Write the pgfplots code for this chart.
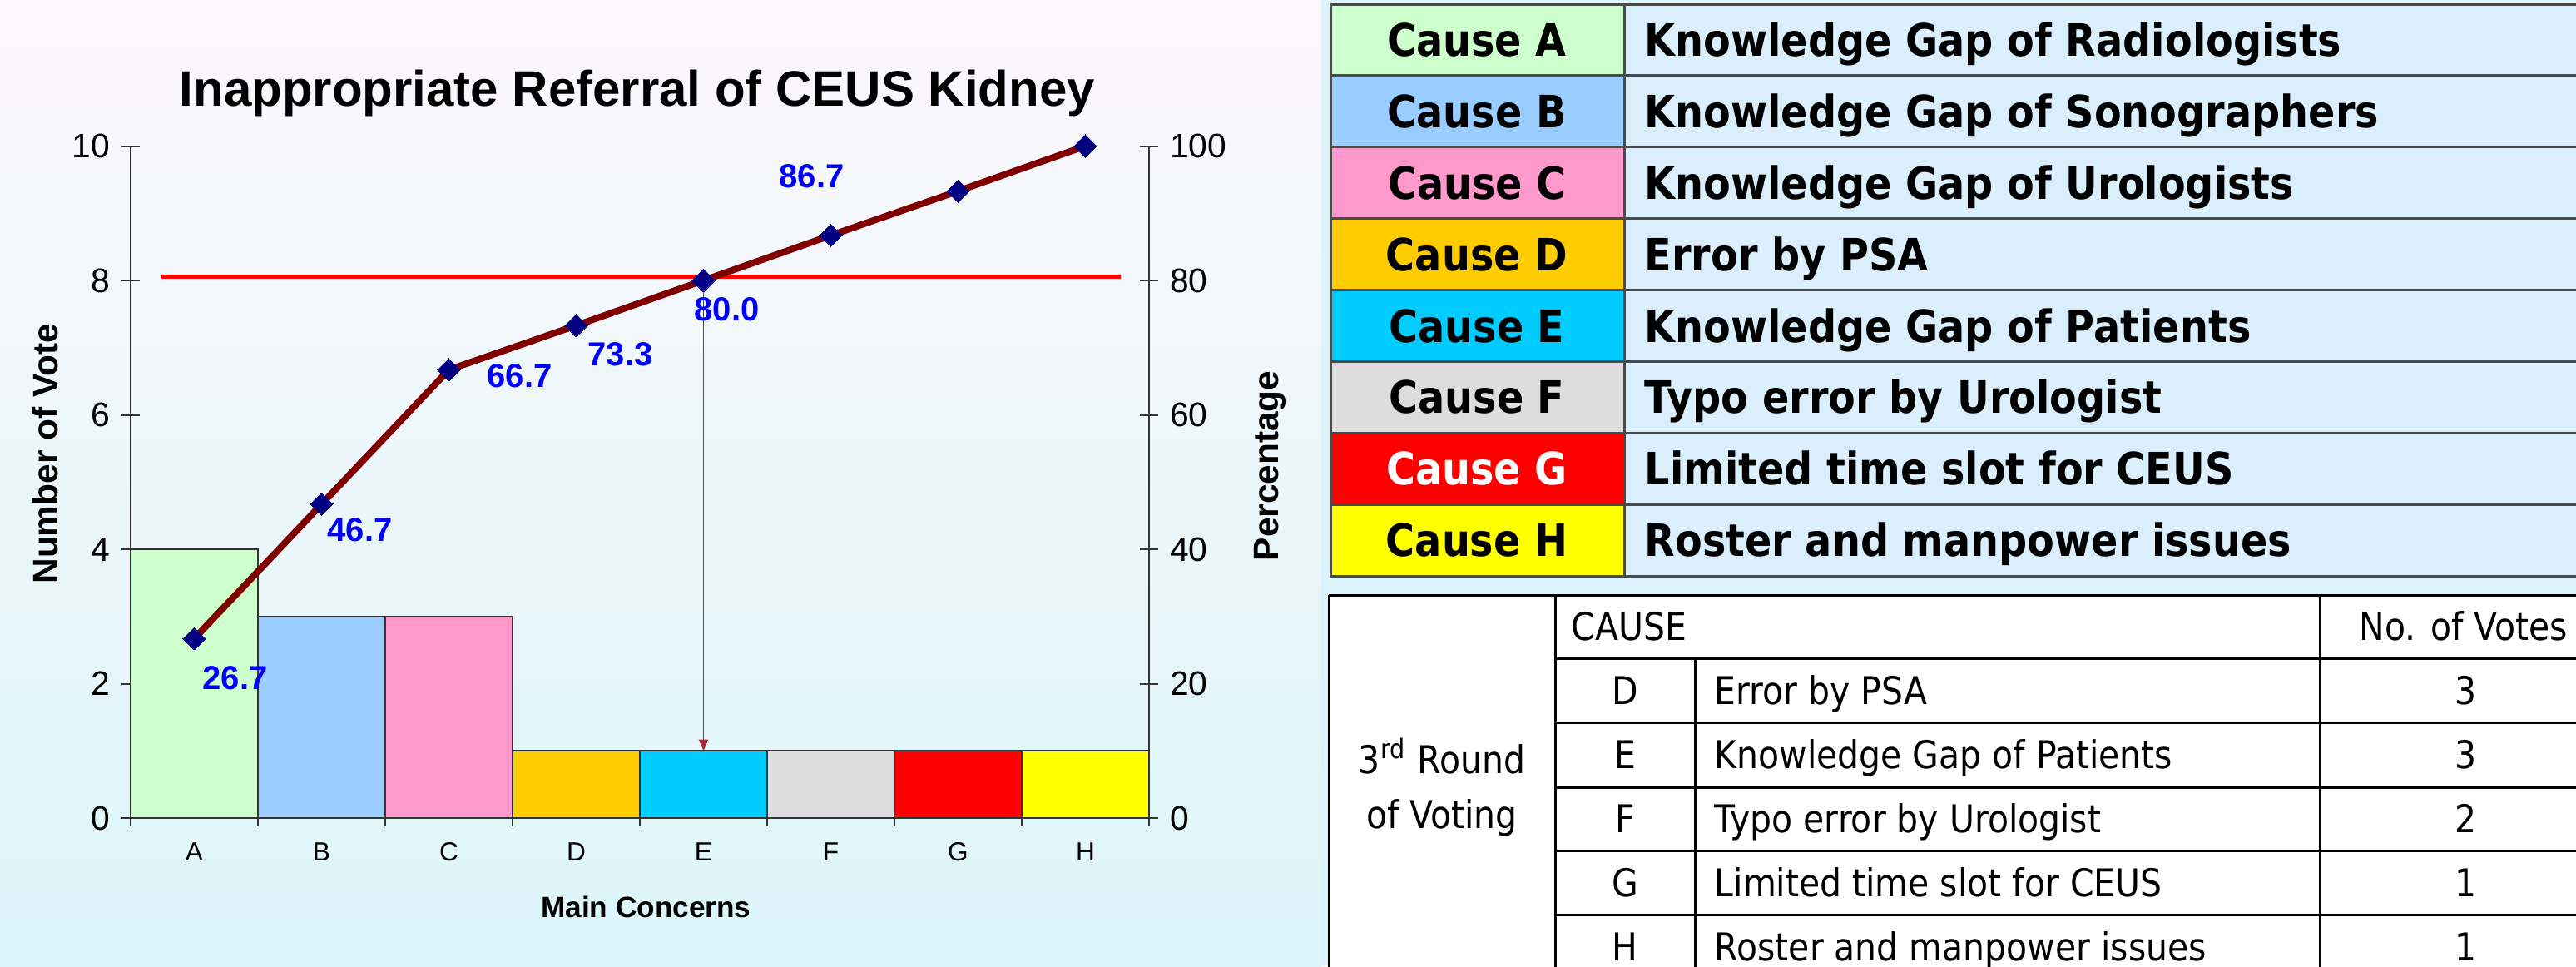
\documentclass[border=0pt]{standalone}
\usepackage{fontspec}
\setmainfont{Liberation Sans}
\newfontfamily\tah[FakeStretch=0.89]{DejaVu Sans}
\usepackage{pgfplots}
\pgfplotsset{compat=1.18}
\usetikzlibrary{arrows.meta}
\definecolor{cA}{HTML}{CCFFCC}
\definecolor{cB}{HTML}{99CCFF}
\definecolor{cC}{HTML}{FF99CC}
\definecolor{cD}{HTML}{FFCC00}
\definecolor{cE}{HTML}{00CCFF}
\definecolor{cF}{HTML}{DDDDDD}
\definecolor{cG}{HTML}{FF0000}
\definecolor{cH}{HTML}{FFFF00}
\definecolor{bgblue}{HTML}{DCF2FC}
\definecolor{bgtop}{HTML}{FCF7FC}
\definecolor{bgbot}{HTML}{DCF6F9}
\definecolor{tblue}{HTML}{DAEEFB}
\definecolor{tline}{HTML}{4A4A4A}
\definecolor{axgray}{HTML}{333333}
\definecolor{cumred}{HTML}{800000}
\definecolor{navy}{HTML}{000080}
\definecolor{arrred}{HTML}{A52A3A}
\definecolor{lblue}{HTML}{0000FF}
\begin{document}
\begin{tikzpicture}
\path[use as bounding box] (0,0) rectangle (774pt,290.25pt);
\clip (0,0) rectangle (774pt,290.25pt);
\fill[bgblue] (0,0) rectangle (774pt,290.25pt);
\shade[top color=bgtop, bottom color=bgbot] (0,0) rectangle (397pt,290.25pt);
\begin{scope}[x=0.25pt,y=-0.25pt,yshift=290.25pt]
% ---- table 1
\foreach \i/\L/\c/\tc/\d in {0/A/cA/black/Knowledge Gap of Radiologists,
  1/B/cB/black/Knowledge Gap of Sonographers,
  2/C/cC/black/Knowledge Gap of Urologists,
  3/D/cD/black/Error by PSA,
  4/E/cE/black/Knowledge Gap of Patients,
  5/F/cF/black/Typo error by Urologist,
  6/G/cG/white/Limited time slot for CEUS,
  7/H/cH/black/Roster and manpower issues}{
  \pgfmathsetmacro\yt{5+\i*85.9}
  \pgfmathsetmacro\yb{5+(\i+1)*85.9}
  \pgfmathsetmacro\yc{5+\i*85.9+42.95+19.5}
  \fill[\c] (1599,\yt) rectangle (1952,\yb);
  \fill[tblue] (1952,\yt) rectangle (3140,\yb);
  \node[anchor=base, text=\tc, font=\fontsize{13.4}{16}\tah\bfseries, inner sep=0pt] at (1775,\yc) {Cause \L};
  \node[anchor=base west, font=\fontsize{13.4}{16}\tah\bfseries, inner sep=0pt] at (1976,\yc) {\d};
}
\foreach \i in {0,...,8}{
  \pgfmathsetmacro\yy{5+\i*85.9}
  \draw[tline, line width=0.75pt] (1599,\yy) -- (3140,\yy);
}
\draw[tline, line width=0.75pt] (1599,5) -- (1599,692.2) (1952,5) -- (1952,692.2);
% ---- table 2
\fill[white] (1597,715) rectangle (3140,1200);
\draw[black, line width=0.75pt] (1597,715) -- (3140,715);
\draw[black, line width=0.75pt] (1597,715) -- (1597,1200) (1869,715) -- (1869,1200) (2788,715) -- (2788,1200) (2037,791) -- (2037,1200);
\foreach \yy in {791,868,946,1022,1099,1176}{
  \draw[black, line width=0.75pt] (1869,\yy) -- (3140,\yy);
}
\tikzset{t2/.style={font=\fontsize{11.5}{13.8}\tah, inner sep=0pt}}
\node[t2, anchor=base west] at (1888,753+16.8) {CAUSE};
\node[t2, anchor=base west] at (2835,753+16.8) {No. of Votes};
\foreach \yc/\L/\d/\v in {829.5/D/Error by PSA/3, 907/E/Knowledge Gap of Patients/3, 984/F/Typo error by Urologist/2, 1060.5/G/Limited time slot for CEUS/1, 1137.5/H/Roster and manpower issues/1}{
  \node[t2, anchor=base] at (1953,\yc+16.8) {\L};
  \node[t2, anchor=base west] at (2060,\yc+16.8) {\d};
  \node[t2, anchor=base] at (2963,\yc+16.8) {\v};
}
\node[t2, align=center, anchor=center, font=\fontsize{11.5}{16.5}\tah] at (1733,946) {3\textsuperscript{rd} Round\\of Voting};
\end{scope}
% ---- primary axis (bars)
\begin{axis}[
  at={(39.25pt,44.5pt)}, anchor=south west,
  scale only axis, width=306pt, height=201.875pt,
  xmin=0.5, xmax=8.5, ymin=0, ymax=10,
  axis x line=bottom, axis y line=left,
  axis line style={-, draw=axgray, line width=0.5pt},
  ybar=0pt, bar width=1,
  xtick={1,...,8}, xticklabels={A,B,C,D,E,F,G,H},
  major x tick style={draw=none},
  minor xtick={0.5,1.5,...,8.5},
  minor x tick style={draw=axgray, line width=0.5pt, yshift=-1.3pt},
  minor tick length=2.6pt,
  ytick={0,2,...,10},
  tick align=center, major tick length=5.5pt,
  major y tick style={draw=axgray, line width=0.5pt},
  /pgf/number format/assume math mode=true,
  xticklabel style={font=\fontsize{7.9}{9}\selectfont, anchor=base, yshift=-10.2pt},
  yticklabel style={font=\fontsize{10.2}{12}\selectfont},
  every axis y label/.style={at={(axis description cs:-0.0842,0.542)}, rotate=90, anchor=center, font=\fontsize{10.6}{12}\selectfont\bfseries},
  every axis x label/.style={at={(axis description cs:0.506,-0.133)}, anchor=center, font=\fontsize{8.8}{10}\selectfont\bfseries},
  every axis title/.style={at={(axis description cs:0.4975,1.06)}, anchor=base, font=\fontsize{15}{18}\selectfont\bfseries},
  ylabel={Number of Vote}, xlabel={Main Concerns},
  title={Inappropriate Referral of CEUS Kidney},
]
\addplot[bar shift=0pt, fill=cA, draw=axgray, line width=0.4pt] coordinates {(1,4)};
\addplot[bar shift=0pt, fill=cB, draw=axgray, line width=0.4pt] coordinates {(2,3)};
\addplot[bar shift=0pt, fill=cC, draw=axgray, line width=0.4pt] coordinates {(3,3)};
\addplot[bar shift=0pt, fill=cD, draw=axgray, line width=0.4pt] coordinates {(4,1)};
\addplot[bar shift=0pt, fill=cE, draw=axgray, line width=0.4pt] coordinates {(5,1)};
\addplot[bar shift=0pt, fill=cF, draw=axgray, line width=0.4pt] coordinates {(6,1)};
\addplot[bar shift=0pt, fill=cG, draw=axgray, line width=0.4pt] coordinates {(7,1)};
\addplot[bar shift=0pt, fill=cH, draw=axgray, line width=0.4pt] coordinates {(8,1)};
\end{axis}
% ---- secondary axis (cumulative percentage)
\begin{axis}[
  at={(39.25pt,44.5pt)}, anchor=south west,
  scale only axis, width=306pt, height=201.875pt,
  xmin=0.5, xmax=8.5, ymin=0, ymax=100,
  axis x line=none, axis y line=right,
  axis line style={-, draw=axgray, line width=0.5pt},
  ytick={0,20,...,100},
  tick align=center, major tick length=5.5pt,
  major y tick style={draw=axgray, line width=0.5pt},
  /pgf/number format/assume math mode=true,
  yticklabel style={font=\fontsize{10.2}{12}\selectfont},
  every axis y label/.style={at={(axis description cs:1.119,0.524)}, rotate=90, anchor=center, font=\fontsize{10.6}{12}\selectfont\bfseries},
  ylabel={Percentage},
  clip=false,
]
\addplot[red, line width=1.25pt] coordinates {(0.742,80.5) (8.28,80.5)};
\addplot[arrred, line width=0.45pt, -{Triangle[width=2.8pt,length=3.4pt]}] coordinates {(5,80) (5,10)};
\addplot[cumred, line width=2pt, mark=square*, mark size=2.4pt, mark options={rotate=45, fill=navy, draw=navy, line width=0pt}] coordinates {(1,26.7) (2,46.7) (3,66.7) (4,73.3) (5,80.0) (6,86.7) (7,93.3) (8,100)};
\tikzset{lbl/.style={text=lblue, font=\fontsize{10}{12}\selectfont\bfseries, inner sep=0pt}}
\node[lbl, xshift=12.25pt, yshift=-11.75pt] at (axis cs:1,26.7) {26.7};
\node[lbl, xshift=11.5pt, yshift=-7.6pt] at (axis cs:2,46.7) {46.7};
\node[lbl, xshift=21.25pt, yshift=-1.9pt] at (axis cs:3,66.7) {66.7};
\node[lbl, xshift=13.25pt, yshift=-8.6pt] at (axis cs:4,73.3) {73.3};
\node[lbl, xshift=7pt, yshift=-8.6pt] at (axis cs:5,80.0) {80.0};
\node[lbl, xshift=-5.75pt, yshift=17.9pt] at (axis cs:6,86.7) {86.7};
\end{axis}
\end{tikzpicture}
\end{document}
